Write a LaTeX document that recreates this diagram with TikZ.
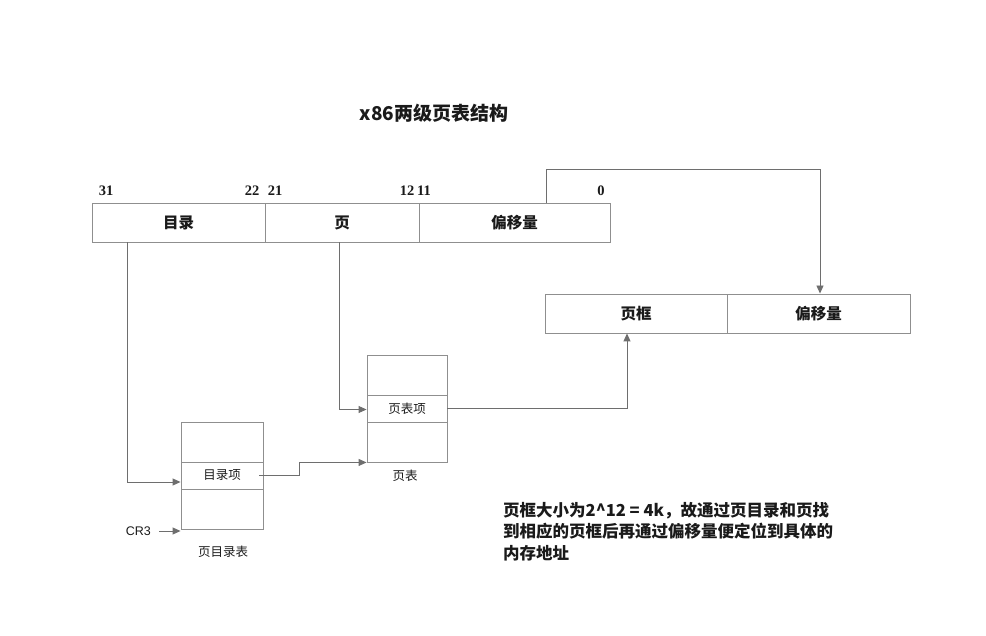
\documentclass[tikz,border=0pt]{standalone}
\usepackage{fontspec}
\setmainfont{Liberation Sans}
\newfontfamily\cjk{Noto Sans CJK SC}
\newfontfamily\numfont{Liberation Serif}
\usetikzlibrary{arrows.meta}
\definecolor{linegray}{HTML}{6E6E6E}
\definecolor{boxgray}{HTML}{8F8F8F}
\definecolor{txt}{HTML}{1A1A1A}
\tikzset{
  cell/.style={draw=boxgray, line width=0.9pt, inner sep=0pt, minimum height=39pt, text=txt,
    font=\cjk\bfseries\fontsize{15.5}{18}\selectfont},
  tcell/.style={draw=boxgray, line width=0.9pt, inner sep=0pt, minimum width=80pt, text=txt,
    font=\cjk\fontsize{12.5}{15}\selectfont},
  lbl/.style={inner sep=0pt, text=txt, font=\cjk\fontsize{12.5}{15}\selectfont},
  bitno/.style={inner sep=0pt, text=txt, font=\numfont\bfseries\fontsize{14.5}{16}\selectfont},
  conn/.style={draw=linegray, line width=0.9pt, -{Triangle[length=8pt,width=7pt]}},
  plain/.style={draw=linegray, line width=0.9pt}
}
\begin{document}
\begin{tikzpicture}[x=1pt,y=-1pt]
\useasboundingbox (0,0) rectangle (986,636);
% title
\node[inner sep=0pt, text=txt, font=\cjk\bfseries\fontsize{19}{22}\selectfont] (title) at (434,113) {x86两级页表结构};
% bit numbers
\node[bitno] (b31) at (106,191) {31};
\node[bitno] (b22) at (252,191) {22};
\node[bitno] (b21) at (275,191) {21};
\node[bitno] (b12) at (407,191) {12};
\node[bitno] (b11) at (424,191) {11};
\node[bitno] (b0) at (601,191) {0};
% linear address
\node[cell, minimum width=173pt] (dir) at (178.5,222.5) {目录};
\node[cell, minimum width=154pt] (pg) at (342,222.5) {页};
\node[cell, minimum width=191pt] (off) at (514.5,222.5) {偏移量};
% physical address
\node[cell, minimum width=182pt] (frame) at (636,313.5) {页框};
\node[cell, minimum width=183pt] (off2) at (818.5,313.5) {偏移量};
% page table
\node[tcell, minimum height=40pt] (pt1) at (407,375) {};
\node[tcell, minimum height=27pt] (pte) at (407,408.5) {页表项};
\node[tcell, minimum height=40pt] (pt3) at (407,442) {};
\node[lbl] (ptl) at (405,476) {页表};
% page directory
\node[tcell, minimum width=82pt, minimum height=40pt] (pd1) at (222,442) {};
\node[tcell, minimum width=82pt, minimum height=27pt] (pde) at (222,475.5) {目录项};
\node[tcell, minimum width=82pt, minimum height=40pt] (pd3) at (222,509) {};
\node[lbl] (pdl) at (223,552) {页目录表};
\node[inner sep=0pt, anchor=east, text=txt, font=\fontsize{12.5}{15}\selectfont] (cr3) at (151,531) {CR3};
% connectors
\draw[conn] ([xshift=31.5pt]off.north) -- ++(0,-33) -| ([xshift=1.5pt]off2.north);
\draw[conn] ([xshift=-3pt]pg.south) |- ([yshift=-1pt]pte.west);
\draw[conn] ([xshift=-51.5pt]dir.south) |- ([yshift=-6.5pt]pde.west);
\draw[conn] ([xshift=37pt]pde.center) -- ++(40,0) |- (pt3.south west);
\draw[conn] (pte.east) -| ([xshift=-9pt]frame.south);
\draw[conn] ([xshift=8pt]cr3.east) -- (cr3.east -| pd3.west);
% note
\node[anchor=north west, align=left, inner sep=0pt, text=txt,
  font=\cjk\bfseries\fontsize{16.5}{21.5}\selectfont] (note) at (503,502)
  {页框大小为2\^{}12 = 4k，故通过页目录和页找\\到相应的页框后再通过偏移量便定位到具体的\\内存地址};
\end{tikzpicture}
\end{document}
